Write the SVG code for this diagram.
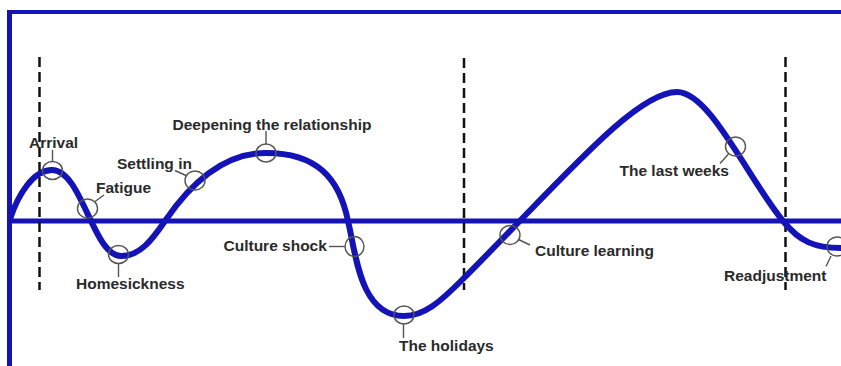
<svg xmlns="http://www.w3.org/2000/svg" width="841" height="366" viewBox="0 0 841 366">
<style>
.frame{stroke:#1313b8;fill:none}
.curve{stroke:#1313b8;stroke-width:6;fill:none;stroke-linecap:round}
.dash{stroke:#111;stroke-width:2.5;stroke-dasharray:10 5;fill:none}
.mark{stroke:#555;stroke-width:1.4;fill:none}
.lbl{font-family:"Liberation Sans",Arial,sans-serif;font-weight:bold;font-size:15.5px;fill:#2a2a2a}
</style>
<rect width="841" height="366" fill="#ffffff"/>
<g id="axes">
<line class="frame" x1="7" y1="12" x2="841" y2="12" stroke-width="4"/>
<line class="frame" x1="9.5" y1="10" x2="9.5" y2="366" stroke-width="5"/>
<line class="frame" x1="8" y1="221" x2="841" y2="221" stroke-width="5"/>
</g>
<g id="phases">
<line class="dash" x1="39.5" y1="57" x2="39.5" y2="290"/>
<line class="dash" x1="464" y1="58" x2="464" y2="290"/>
<line class="dash" x1="785.5" y1="57" x2="785.5" y2="290"/>
</g>
<g id="connectors">
<path class="curve" d="M10,219 C18,195 33,170 52,170 C82,170 93,256 121,256 C140,256 152,240 165,221 C180,199 215,153 266,153 C316,153 339,177 348,221 C356,254 360,316 404,316 C424,316 440,302 462,280 C562,180 635,92 677,92 C710,92 747,177 783,221 C800,242 815,248 841,248"/>
</g>
<g id="arrival">
<ellipse class="mark" cx="52.5" cy="170.5" rx="10" ry="9"/>
<line class="mark" x1="52.5" y1="150" x2="52.5" y2="161.5"/>
<text class="lbl" x="29" y="148">Arrival</text>
</g>
<g id="fatigue">
<ellipse class="mark" cx="87.5" cy="208.5" rx="10" ry="9.5"/>
<line class="mark" x1="95" y1="201.5" x2="104" y2="195"/>
<text class="lbl" x="96" y="193">Fatigue</text>
</g>
<g id="homesickness">
<ellipse class="mark" cx="118.5" cy="254.5" rx="10" ry="9"/>
<line class="mark" x1="118.5" y1="263.5" x2="118.5" y2="277"/>
<text class="lbl" x="76" y="288.5">Homesickness</text>
</g>
<g id="settling">
<ellipse class="mark" cx="195" cy="180.5" rx="10" ry="9.5"/>
<line class="mark" x1="175" y1="170.5" x2="187" y2="176"/>
<text class="lbl" x="117" y="169">Settling in</text>
</g>
<g id="deepening">
<ellipse class="mark" cx="266" cy="153" rx="10" ry="9"/>
<line class="mark" x1="266" y1="131" x2="266" y2="144"/>
<text class="lbl" x="172.5" y="129.5">Deepening the relationship</text>
</g>
<g id="shock">
<ellipse class="mark" cx="354.5" cy="246.5" rx="9.5" ry="10"/>
<line class="mark" x1="329" y1="246.5" x2="345" y2="246.5"/>
<text class="lbl" x="223.5" y="251">Culture shock</text>
</g>
<g id="holidays">
<ellipse class="mark" cx="404" cy="315" rx="10" ry="9"/>
<line class="mark" x1="403.5" y1="324" x2="403.5" y2="338"/>
<text class="lbl" x="399" y="350.5">The holidays</text>
</g>
<g id="learning">
<ellipse class="mark" cx="510" cy="235" rx="10" ry="9.5"/>
<line class="mark" x1="518.5" y1="239.5" x2="530" y2="245"/>
<text class="lbl" x="535" y="256">Culture learning</text>
</g>
<g id="lastweeks">
<ellipse class="mark" cx="735.5" cy="146.5" rx="10" ry="9.5"/>
<line class="mark" x1="728.5" y1="154" x2="720" y2="163.5"/>
<text class="lbl" x="619.5" y="176">The last weeks</text>
</g>
<g id="readjustment">
<ellipse class="mark" cx="837" cy="246.5" rx="10" ry="9.5"/>
<line class="mark" x1="831" y1="256" x2="826" y2="266.5"/>
<text class="lbl" x="724" y="281">Readjustment</text>
</g>
</svg>
